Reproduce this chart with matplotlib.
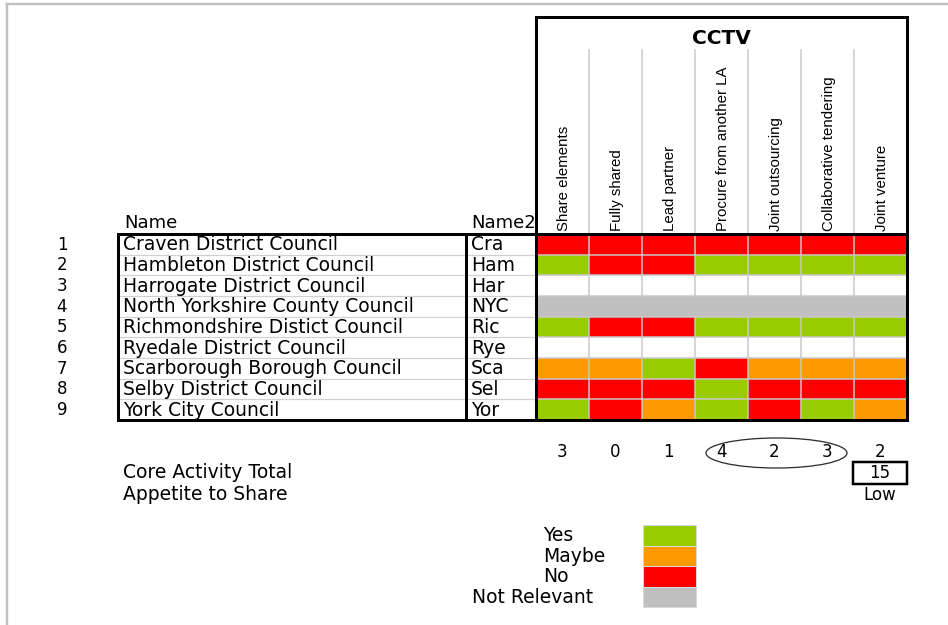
import matplotlib
matplotlib.use("Agg")
import matplotlib.pyplot as plt
from matplotlib.patches import Rectangle, Ellipse
import numpy as np

# ---------------- data ----------------
row_numbers = [1, 2, 3, 4, 5, 6, 7, 8, 9]
councils = ["Craven District Council", "Hambleton District Council",
            "Harrogate District Council", "North Yorkshire County Council",
            "Richmondshire Distict Council", "Ryedale District Council",
            "Scarborough Borough Council", "Selby District Council",
            "York City Council"]
short_names = ["Cra", "Ham", "Har", "NYC", "Ric", "Rye", "Sca", "Sel", "Yor"]
options = ["Share elements", "Fully shared", "Lead partner",
           "Procure from another LA", "Joint outsourcing",
           "Collaborative tendering", "Joint venture"]
# Y = Yes, M = Maybe, N = No, X = Not Relevant, "" = no answer
responses = [
    ["N", "N", "N", "N", "N", "N", "N"],
    ["Y", "N", "N", "Y", "Y", "Y", "Y"],
    ["", "", "", "", "", "", ""],
    ["X", "X", "X", "X", "X", "X", "X"],
    ["Y", "N", "N", "Y", "Y", "Y", "Y"],
    ["", "", "", "", "", "", ""],
    ["M", "M", "Y", "N", "M", "M", "M"],
    ["N", "N", "N", "Y", "N", "N", "N"],
    ["Y", "N", "M", "Y", "N", "Y", "M"],
]
column_totals = [3, 0, 1, 4, 2, 3, 2]
core_activity_total = 15
appetite = "Low"
service = "CCTV"
legend_labels = ["Yes", "Maybe", "No", "Not Relevant"]
legend_codes = ["Y", "M", "N", "X"]

colors = {"Y": "#99CC00", "M": "#FF9900", "N": "#FF0000",
          "X": "#C0C0C0", "": "#FFFFFF"}
grid_gray = "#C8C8C8"

FONT = "DejaVu Sans"
NARROW = ["Liberation Sans Narrow", "Liberation Sans", "DejaVu Sans"]

fig = plt.figure(figsize=(9.48, 6.25), dpi=100)
ax = fig.add_axes([0, 0, 1, 1])
ax.set_xlim(0, 948)
ax.set_ylim(625, 0)
ax.axis("off")

px = 0.72  # one pixel in points

# outer frame (top and left)
ax.plot([7, 7], [4, 625], color="#C0C0C0", lw=2.5 * px)
ax.plot([7, 948], [4, 4], color="#C0C0C0", lw=2.5 * px)

# geometry
grid_left, grid_right = 536, 907
grid_top, grid_bottom = 234, 420
name_left, name2_left = 118, 466
n_rows = len(councils)
n_cols = len(options)
col_edges = np.linspace(grid_left, grid_right, n_cols + 1)
row_edges = np.linspace(grid_top, grid_bottom, n_rows + 1)
col_w = col_edges[1] - col_edges[0]
row_h = row_edges[1] - row_edges[0]
col_centers = (col_edges[:-1] + col_edges[1:]) / 2
row_centers = (row_edges[:-1] + row_edges[1:]) / 2

# cells
for i, row in enumerate(responses):
    for j, code in enumerate(row):
        ax.add_patch(Rectangle((col_edges[j], row_edges[i]), col_w, row_h,
                               facecolor=colors[code], edgecolor="none", zorder=1))

# inner grid lines in the colour grid
for i in range(1, n_rows):
    ax.plot([grid_left, grid_right], [row_edges[i]] * 2, color=grid_gray,
            lw=1.5 * px, zorder=2)
for i, row in enumerate(responses):
    if all(c == "X" for c in row):
        continue
    for j in range(1, n_cols):
        ax.plot([col_edges[j]] * 2, [row_edges[i], row_edges[i + 1]],
                color=grid_gray, lw=1.5 * px, zorder=2)

# name table inner lines
for i in range(1, n_rows):
    ax.plot([name_left, grid_left], [row_edges[i]] * 2, color="#D0D0D0",
            lw=1.2 * px, zorder=2)

# text rows
for i in range(n_rows):
    ax.text(62, row_centers[i] + 0.5, str(row_numbers[i]), ha="center", va="center",
            fontsize=12, family=FONT, zorder=3)
    ax.text(123, row_centers[i] + 0.5, councils[i], ha="left", va="center",
            fontsize=13.5, family=FONT, zorder=3)
    ax.text(471, row_centers[i] + 0.5, short_names[i], ha="left", va="center",
            fontsize=13.5, family=FONT, zorder=3)

# headers for name columns
ax.text(124, 223, "Name", ha="left", va="center", fontsize=13, family=FONT, zorder=3)
ax.text(471, 223, "Name2", ha="left", va="center", fontsize=13, family=FONT, zorder=3)

# header box (white, covers clipped "Name2")
ax.add_patch(Rectangle((grid_left, 17), grid_right - grid_left, grid_top - 17,
                       facecolor="white", edgecolor="black", lw=3 * px, zorder=4))
ax.text((grid_left + grid_right) / 2, 38, service, ha="center", va="center",
        fontsize=14.5, fontweight="bold", family=FONT, zorder=5)
for j in range(1, n_cols):
    ax.plot([col_edges[j]] * 2, [50, grid_top], color=grid_gray, lw=1.5 * px, zorder=5)
for j, lab in enumerate(options):
    ax.text(col_centers[j] + 2, 231, lab, rotation=90, ha="center", va="bottom",
            fontsize=10.8, family=NARROW, zorder=5)

# thick borders
for (x0, x1) in [(name_left, name2_left), (name2_left, grid_left), (grid_left, grid_right)]:
    ax.add_patch(Rectangle((x0, grid_top), x1 - x0, grid_bottom - grid_top,
                           facecolor="none", edgecolor="black", lw=3 * px, zorder=6))

# column totals
for j, v in enumerate(column_totals):
    ax.text(col_centers[j], 452, str(v), ha="center", va="center",
            fontsize=12, family=FONT, zorder=3)
ax.add_patch(Ellipse((776.5, 453), 141, 30, facecolor="none",
                     edgecolor="#303030", lw=1.3 * px, zorder=3))

# totals block
ax.text(123, 473, "Core Activity Total", ha="left", va="center",
        fontsize=13.5, family=FONT)
ax.text(123, 494, "Appetite to Share", ha="left", va="center",
        fontsize=13.5, family=FONT)
ax.add_patch(Rectangle((853, 462), 54, 22, facecolor="white",
                       edgecolor="black", lw=2.5 * px, zorder=3))
ax.text(880, 473, str(core_activity_total), ha="center", va="center",
        fontsize=12, family=FONT, zorder=4)
ax.text(880, 495, appetite, ha="center", va="center", fontsize=12, family=FONT)

# legend
leg_top = 525
leg_h = 20.6
for k, (lab, code) in enumerate(zip(legend_labels, legend_codes)):
    y0 = leg_top + k * leg_h
    ax.add_patch(Rectangle((643, y0), 53, leg_h, facecolor=colors[code],
                           edgecolor="#D8D8D8", lw=1 * px))
    x_lab = 472 if code == "X" else 543
    ax.text(x_lab, y0 + leg_h / 2 + 0.5, lab, ha="left", va="center",
            fontsize=13.5, family=FONT)

fig.savefig("out.png", dpi=100, facecolor="white")
